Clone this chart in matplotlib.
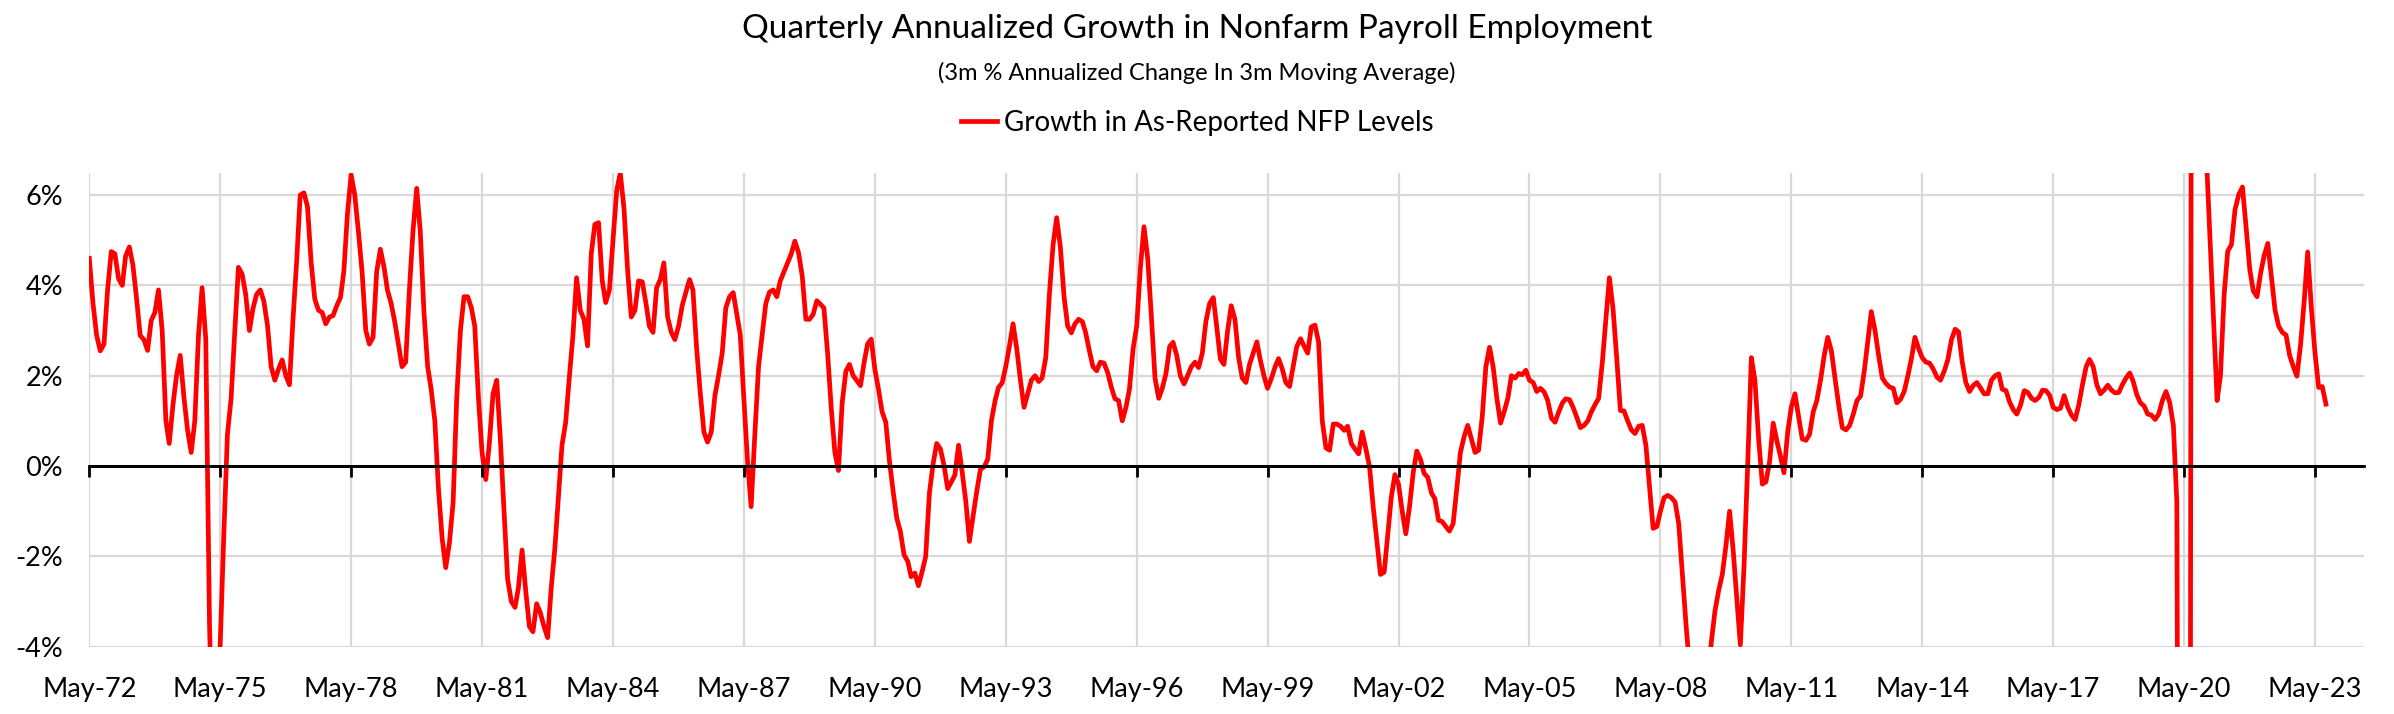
import matplotlib
matplotlib.use("Agg")
import matplotlib.pyplot as plt
import matplotlib.dates as mdates
from matplotlib.ticker import FuncFormatter
import pandas as pd

TITLE = "Quarterly Annualized Growth in Nonfarm Payroll Employment"
SUBTITLE = "(3m % Annualized Change In 3m Moving Average)"
SERIES_NAME = "Growth in As-Reported NFP Levels"

START = "1972-05-01"

# monthly values, % (one row = May..Apr)
nfp_growth = [
    4.6, 3.6, 2.9, 2.55, 2.7, 3.9, 4.75, 4.7, 4.15, 4.0, 4.65, 4.85,
    4.45, 3.7, 2.89, 2.8, 2.56, 3.22, 3.4, 3.9, 3.0, 1.0, 0.5, 1.35,
    2.0, 2.45, 1.55, 0.8, 0.3, 1.0, 2.9, 3.95, 2.8, -3.5, -6.5, -5.5,
    -4.0, -1.5, 0.7, 1.5, 3.0, 4.4, 4.25, 3.8, 3.0, 3.5, 3.8, 3.9,
    3.65, 3.1, 2.2, 1.9, 2.15, 2.35, 2.0, 1.8, 3.3, 4.6, 6.0, 6.05,
    5.75, 4.5, 3.7, 3.45, 3.4, 3.15, 3.3, 3.33, 3.55, 3.73, 4.3, 5.6,
    6.45, 6.0, 5.2, 4.3, 3.0, 2.7, 2.85, 4.3, 4.8, 4.4, 3.9, 3.6,
    3.2, 2.7, 2.2, 2.3, 3.9, 5.2, 6.15, 5.2, 3.4, 2.2, 1.7, 1.0,
    -0.5, -1.6, -2.25, -1.7, -0.8, 1.5, 3.0, 3.75, 3.75, 3.5, 3.1, 1.5,
    0.3, -0.3, 0.5, 1.6, 1.9, 0.6, -1.0, -2.5, -3.0, -3.13, -2.7, -1.86,
    -2.75, -3.55, -3.67, -3.05, -3.25, -3.55, -3.8, -2.7, -1.8, -0.6, 0.46, 0.97,
    1.95, 2.9, 4.17, 3.45, 3.25, 2.66, 4.7, 5.35, 5.39, 4.1, 3.62, 3.9,
    5.0, 6.1, 6.49, 5.7, 4.3, 3.3, 3.45, 4.1, 4.08, 3.6, 3.1, 2.96,
    3.95, 4.13, 4.5, 3.3, 2.96, 2.8, 3.1, 3.55, 3.85, 4.13, 3.9, 2.6,
    1.63, 0.75, 0.53, 0.75, 1.56, 2.0, 2.5, 3.5, 3.75, 3.84, 3.4, 2.9,
    1.5, 0.1, -0.9, 0.7, 2.2, 2.9, 3.6, 3.85, 3.9, 3.75, 4.1, 4.3,
    4.5, 4.7, 4.98, 4.72, 4.2, 3.25, 3.25, 3.36, 3.66, 3.58, 3.5, 2.5,
    1.3, 0.3, -0.1, 1.4, 2.1, 2.25, 2.0, 1.89, 1.78, 2.3, 2.7, 2.81,
    2.15, 1.7, 1.2, 0.97, 0.1, -0.55, -1.16, -1.45, -1.97, -2.11, -2.45, -2.37,
    -2.65, -2.34, -2.0, -0.6, 0.05, 0.5, 0.38, 0.02, -0.5, -0.35, -0.2, 0.46,
    -0.13, -0.79, -1.67, -1.1, -0.55, -0.07, -0.02, 0.15, 1.0, 1.45, 1.74, 1.84,
    2.2, 2.66, 3.15, 2.6, 1.9, 1.3, 1.6, 1.9, 2.0, 1.87, 1.95, 2.4,
    3.8, 4.9, 5.5, 4.85, 3.75, 3.1, 2.95, 3.15, 3.25, 3.2, 2.95, 2.55,
    2.2, 2.11, 2.3, 2.28, 2.07, 1.75, 1.49, 1.45, 1.0, 1.3, 1.7, 2.6,
    3.1, 4.4, 5.3, 4.6, 3.3, 1.95, 1.5, 1.72, 2.05, 2.65, 2.74, 2.45,
    2.0, 1.82, 2.0, 2.2, 2.3, 2.18, 2.5, 3.2, 3.6, 3.73, 3.1, 2.37,
    2.25, 3.0, 3.55, 3.25, 2.4, 1.95, 1.85, 2.25, 2.5, 2.75, 2.35, 2.0,
    1.72, 1.93, 2.18, 2.38, 2.15, 1.85, 1.76, 2.2, 2.65, 2.82, 2.66, 2.5,
    3.08, 3.12, 2.75, 1.0, 0.4, 0.35, 0.93, 0.93, 0.88, 0.79, 0.88, 0.5,
    0.38, 0.27, 0.75, 0.38, -0.02, -0.9, -1.67, -2.4, -2.35, -1.5, -0.7, -0.19,
    -0.4, -1.0, -1.5, -0.9, -0.15, 0.33, 0.15, -0.16, -0.25, -0.6, -0.72, -1.2,
    -1.23, -1.34, -1.44, -1.28, -0.5, 0.3, 0.65, 0.9, 0.6, 0.3, 0.35, 1.1,
    2.2, 2.63, 2.2, 1.5, 0.95, 1.2, 1.5, 2.0, 1.95, 2.05, 2.02, 2.12,
    1.9, 1.85, 1.65, 1.72, 1.64, 1.45, 1.06, 0.97, 1.2, 1.4, 1.49, 1.47,
    1.3, 1.08, 0.85, 0.9, 1.0, 1.2, 1.36, 1.5, 2.3, 3.3, 4.17, 3.47,
    2.4, 1.23, 1.22, 1.0, 0.8, 0.72, 0.88, 0.9, 0.45, -0.5, -1.38, -1.34,
    -1.0, -0.7, -0.65, -0.7, -0.8, -1.27, -2.4, -3.5, -4.5, -5.3, -5.8, -5.9,
    -5.6, -4.8, -3.9, -3.2, -2.75, -2.4, -1.75, -1.0, -1.9, -3.0, -3.96, -2.2,
    0.0, 2.4, 1.9, 0.6, -0.4, -0.35, 0.1, 0.95, 0.55, 0.2, -0.15, 0.75,
    1.3, 1.6, 1.1, 0.6, 0.57, 0.7, 1.2, 1.45, 1.9, 2.45, 2.85, 2.55,
    1.95, 1.35, 0.85, 0.8, 0.9, 1.15, 1.45, 1.55, 2.1, 2.8, 3.42, 3.0,
    2.45, 1.95, 1.83, 1.75, 1.72, 1.4, 1.48, 1.65, 2.0, 2.4, 2.85, 2.6,
    2.4, 2.3, 2.28, 2.15, 1.97, 1.9, 2.1, 2.35, 2.8, 3.03, 2.97, 2.3,
    1.85, 1.65, 1.78, 1.85, 1.73, 1.6, 1.6, 1.9, 2.0, 2.04, 1.7, 1.67,
    1.42, 1.25, 1.15, 1.35, 1.67, 1.63, 1.5, 1.45, 1.52, 1.68, 1.67, 1.57,
    1.3, 1.25, 1.28, 1.56, 1.3, 1.13, 1.03, 1.35, 1.8, 2.2, 2.36, 2.2,
    1.8, 1.6, 1.68, 1.79, 1.68, 1.62, 1.63, 1.8, 1.95, 2.06, 1.88, 1.58,
    1.4, 1.33, 1.15, 1.13, 1.03, 1.15, 1.45, 1.65, 1.41, 0.9, -0.8, -25.0,
    -45.0, -50.0, 12.0, 25.0, 20.0, 12.0, 7.0, 5.2, 3.3, 1.45, 2.0, 3.8,
    4.76, 4.9, 5.68, 6.01, 6.18, 5.31, 4.36, 3.88, 3.75, 4.28, 4.65, 4.93,
    4.2, 3.45, 3.1, 2.96, 2.9, 2.45, 2.2, 1.99, 2.7, 3.69, 4.74, 3.5,
    2.51, 1.74, 1.76, 1.37,
]

y_ticks = [-4, -2, 0, 2, 4, 6]

plt.rcParams["font.family"] = ["Lato", "DejaVu Sans"]

dates = pd.date_range(START, periods=len(nfp_growth), freq="MS")
tick_dates = pd.date_range(START, "2023-05-01", freq="36MS")

fig = plt.figure(figsize=(23.94, 7.14), dpi=100)
ax = fig.add_axes([0.0373, 0.0943, 0.9502, 0.6641])

grid_col = "#d9d9d9"
ax.plot(dates, nfp_growth, color="#ff0000", lw=3.4, solid_joinstyle="round",
        label=SERIES_NAME, zorder=3)
# black zero line
ax.axhline(0, color="black", lw=2, zorder=2)

ax.set_ylim(-4, 6.5)
ax.set_xlim(pd.Timestamp(START), pd.Timestamp("2024-06-15"))
ax.set_yticks(y_ticks)
ax.yaxis.set_major_formatter(FuncFormatter(lambda v, p: f"{v:.0f}%"))
ax.set_xticks(tick_dates)
ax.xaxis.set_major_formatter(mdates.DateFormatter("%b-%y"))

ax.grid(True, color=grid_col, lw=1.6, zorder=0)
for s in ax.spines.values():
    s.set_visible(False)
ax.tick_params(axis="both", length=0, labelsize=19.5, colors="black")
ax.tick_params(axis="x", pad=22)
ax.tick_params(axis="y", pad=19)

# tick marks hanging from the zero line
sec = ax.secondary_xaxis(0, transform=ax.transData)
sec.set_zorder(5)
sec.set_xticks(tick_dates)
sec.tick_params(axis="x", length=8, width=2, direction="out", color="black",
                labelbottom=False)
sec.spines["bottom"].set_color("black")
sec.spines["bottom"].set_linewidth(2)

fig.text(0.5, 1 - 28.5 / 714, TITLE, ha="center", va="center", fontsize=24)
fig.text(0.5, 1 - 73 / 714, SUBTITLE, ha="center", va="center", fontsize=17)
fig.legend(loc="center", bbox_to_anchor=(0.5, 1 - 122.5 / 714), frameon=False,
           fontsize=20, handlelength=1.3, handletextpad=0.25)

fig.savefig("out.png", dpi=100)
